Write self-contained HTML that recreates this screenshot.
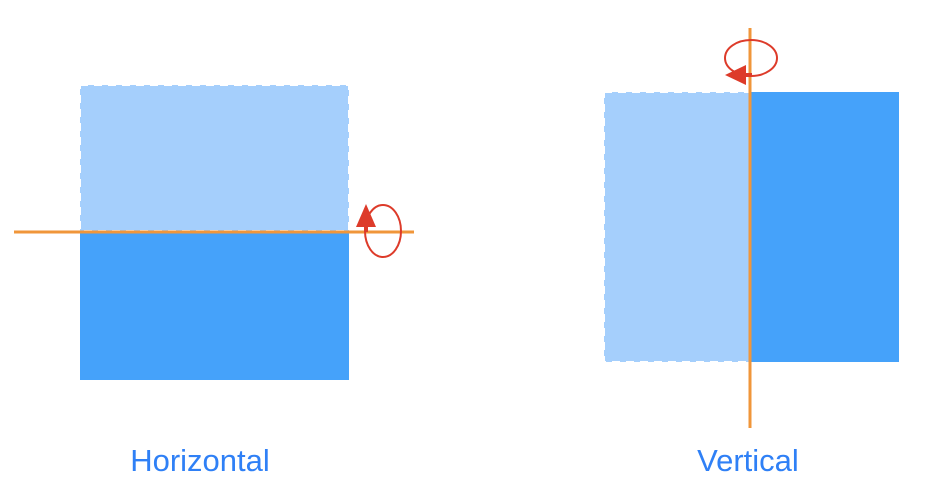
<!DOCTYPE html>
<html><head><meta charset="utf-8"><style>
html,body{margin:0;padding:0;background:#fff;width:952px;height:498px;overflow:hidden}
svg{display:block}
text{font-family:"Liberation Sans",sans-serif}
</style></head><body>
<svg width="952" height="498">
<g>
<rect x="80" y="85" width="269" height="146" fill="#a5cffc" stroke="#fff" stroke-width="2" stroke-dasharray="8,6"/>
<rect x="80" y="231" width="269" height="149" fill="#45a2fa"/>
<line x1="14" y1="232" x2="414" y2="232" stroke="#f0963a" stroke-width="3"/>
<ellipse cx="383" cy="231" rx="18" ry="26" fill="none" stroke="#dd3b2a" stroke-width="2"/>
<line x1="366" y1="224" x2="366" y2="232" stroke="#dd3b2a" stroke-width="4"/>
<polygon points="366,204 356,227 376,227" fill="#dd3b2a"/>
<text x="200" y="471" text-anchor="middle" font-size="31" fill="#2f80f6">Horizontal</text>
</g>
<g>
<rect x="604" y="92" width="146" height="270" fill="#a5cffc" stroke="#fff" stroke-width="2" stroke-dasharray="8,6"/>
<rect x="750" y="92" width="149" height="270" fill="#45a2fa"/>
<line x1="750" y1="28" x2="750" y2="428" stroke="#f0963a" stroke-width="3"/>
<ellipse cx="751" cy="58" rx="26" ry="18" fill="none" stroke="#dd3b2a" stroke-width="2"/>
<line x1="742" y1="75" x2="752" y2="75" stroke="#dd3b2a" stroke-width="4"/>
<polygon points="725,75 746,65 746,85" fill="#dd3b2a"/>
<text x="748" y="471" text-anchor="middle" font-size="31" fill="#2f80f6">Vertical</text>
</g>
</svg>
</body></html>
